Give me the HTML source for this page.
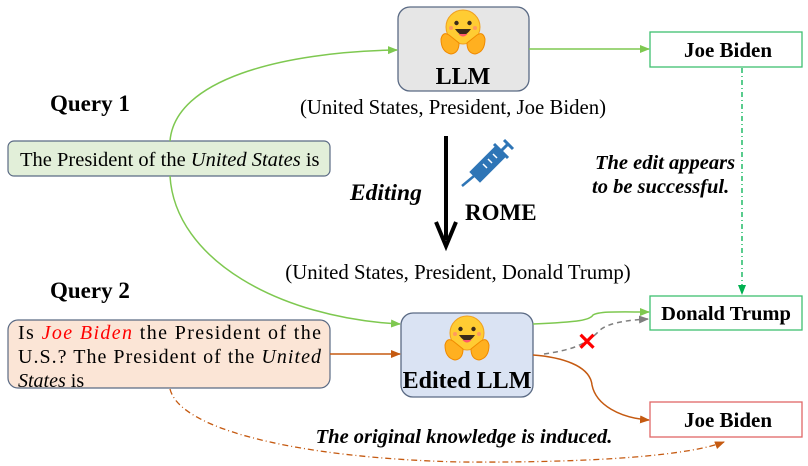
<!DOCTYPE html>
<html><head><meta charset="utf-8"><style>
html,body{margin:0;padding:0;background:#fff;}
svg{display:block;}
text{font-family:"Liberation Serif",serif;fill:#000;}
</style></head><body>
<svg width="808" height="466" viewBox="0 0 808 466" xmlns="http://www.w3.org/2000/svg">
<defs>
<marker id="ag" markerWidth="10" markerHeight="10" refX="9" refY="5" orient="auto" markerUnits="userSpaceOnUse"><path d="M0,1 L10,5 L0,9 z" fill="#7ec850"/></marker>
<marker id="ao" markerWidth="10" markerHeight="10" refX="9" refY="5" orient="auto" markerUnits="userSpaceOnUse"><path d="M0,1 L10,5 L0,9 z" fill="#c55a11"/></marker>
<marker id="agr" markerWidth="10" markerHeight="10" refX="9" refY="5" orient="auto" markerUnits="userSpaceOnUse"><path d="M0,1 L10,5 L0,9 z" fill="#7f7f7f"/></marker>
<marker id="adg" markerWidth="10" markerHeight="10" refX="9" refY="5" orient="auto" markerUnits="userSpaceOnUse"><path d="M0,1 L10,5 L0,9 z" fill="#00b050"/></marker>
<g id="hug">
<circle cx="0" cy="0" r="17" fill="#ffcc33" stroke="#f0a020" stroke-width="1"/>
<circle cx="-6.5" cy="-4" r="2.2" fill="#3a2a1a"/><circle cx="6.5" cy="-4" r="2.2" fill="#3a2a1a"/>
<circle cx="-12" cy="1" r="2" fill="#ff9a60"/><circle cx="12" cy="1" r="2" fill="#ff9a60"/>
<path d="M-8,2 Q0,14 8,2 z" fill="#3a2a1a"/><path d="M-4.5,7 Q0,12 4.5,7 z" fill="#ff5a6a"/>
<path d="M-22,12 Q-20,4 -14,8 L-4,16 Q-4,26 -12,27 Q-22,25 -22,12 z" fill="#ffb020" stroke="#f08a00"/>
<path d="M22,12 Q20,4 14,8 L4,16 Q4,26 12,27 Q22,25 22,12 z" fill="#ffb020" stroke="#f08a00"/>
</g>
</defs>

<!-- LLM box -->
<rect x="398" y="7" width="131" height="84" rx="12" fill="#e6e6e6" stroke="#5a6a84" stroke-width="1.3"/>
<use href="#hug" x="463" y="27"/>
<text x="463" y="84" text-anchor="middle" font-size="24" font-weight="bold">LLM</text>
<text x="453" y="114" text-anchor="middle" font-size="20.8">(United States, President, Joe Biden)</text>

<text x="50" y="111" font-size="23" font-weight="bold">Query 1</text>
<rect x="8" y="141" width="322" height="35" rx="6" fill="#e2efd9" stroke="#5a6a84" stroke-width="1.2"/>
<text x="20" y="166" font-size="20.5">The President of the <tspan font-style="italic">United States</tspan> is</text>

<!-- green curves -->
<path d="M170,141 C175,80 280,52 397,50" fill="none" stroke="#7ec850" stroke-width="1.5" marker-end="url(#ag)"/>
<path d="M529,49 L649,49" fill="none" stroke="#7ec850" stroke-width="1.5" marker-end="url(#ag)"/>
<path d="M170,176 C175,260 280,318 400,324" fill="none" stroke="#7ec850" stroke-width="1.5" marker-end="url(#ag)"/>

<rect x="650" y="32" width="152" height="35" fill="#fff" stroke="#3ec070" stroke-width="1.3"/>
<text x="728" y="57" text-anchor="middle" font-size="21" font-weight="bold">Joe Biden</text>

<!-- editing arrow -->
<line x1="446" y1="136" x2="446" y2="240" stroke="#000" stroke-width="4"/>
<path d="M436,222 L446,246 L456,222" fill="none" stroke="#000" stroke-width="4"/>
<text x="350" y="200" font-size="23.5" font-weight="bold" font-style="italic">Editing</text>
<text x="465" y="220" font-size="23" font-weight="bold">ROME</text>
<!-- syringe -->
<g stroke="#2e75b6" fill="#2e75b6">
<line x1="462" y1="186" x2="474" y2="176" stroke-width="2.5"/>
<path d="M470,172 L496,146 L506,156 L480,182 z"/>
<line x1="494" y1="144" x2="508" y2="158" stroke-width="3"/>
<line x1="501" y1="151" x2="508" y2="144" stroke-width="3"/>
<line x1="504" y1="140" x2="513" y2="149" stroke-width="3"/>
</g>
<g stroke="#fff" stroke-width="1.5"><line x1="483" y1="164" x2="487" y2="168"/><line x1="488" y1="159" x2="492" y2="163"/><line x1="493" y1="154" x2="497" y2="158"/></g>

<text x="458" y="279" text-anchor="middle" font-size="20.8">(United States, President, Donald Trump)</text>

<text x="595" y="169" font-size="20.5" font-weight="bold" font-style="italic">The edit appears</text>
<text x="592" y="193" font-size="20.5" font-weight="bold" font-style="italic">to be successful.</text>
<line x1="742" y1="68" x2="742" y2="294" stroke="#00b050" stroke-width="1.3" stroke-dasharray="5,3,1,3" marker-end="url(#adg)"/>

<text x="50" y="298" font-size="23" font-weight="bold">Query 2</text>
<rect x="8" y="320" width="322" height="68" rx="10" fill="#fbe5d6" stroke="#5a6a84" stroke-width="1.2"/>
<text x="18" y="339" font-size="20" textLength="303" lengthAdjust="spacing">Is <tspan fill="#ff0000" style="fill:#ff0000" font-style="italic">Joe Biden</tspan> the President of the</text>
<text x="18" y="363" font-size="20" textLength="303" lengthAdjust="spacing">U.S.? The President of the <tspan font-style="italic">United</tspan></text>
<text x="18" y="387" font-size="20"><tspan font-style="italic">States</tspan> is</text>

<!-- Edited LLM -->
<rect x="401" y="313" width="132" height="84" rx="12" fill="#dae3f3" stroke="#5a6a84" stroke-width="1.3"/>
<use href="#hug" x="467" y="333"/>
<text x="467" y="388" text-anchor="middle" font-size="24" font-weight="bold">Edited LLM</text>

<line x1="330" y1="354" x2="400" y2="354" stroke="#c55a11" stroke-width="1.5" marker-end="url(#ao)"/>
<path d="M533,324 C580,322 590,320 593,315 C600,311 620,312 649,312" fill="none" stroke="#7ec850" stroke-width="1.5" marker-end="url(#ag)"/>
<path d="M544,354 C570,350 585,346 600,330 C610,322 630,320 648,319" fill="none" stroke="#7f7f7f" stroke-width="1.5" stroke-dasharray="5,4" marker-end="url(#agr)"/>
<text x="587" y="350" text-anchor="middle" font-family="Liberation Sans" font-size="24" font-weight="bold" fill="#ff0000" style="fill:#ff0000">✕</text>
<path d="M533,355 C560,357 590,365 592,385 C596,405 620,418 649,420" fill="none" stroke="#c55a11" stroke-width="1.5" marker-end="url(#ao)"/>

<rect x="650" y="296" width="152" height="34" fill="#fff" stroke="#3ec070" stroke-width="1.3"/>
<text x="726" y="320" text-anchor="middle" font-size="20.5" font-weight="bold">Donald Trump</text>
<rect x="650" y="402" width="152" height="35" fill="#fff" stroke="#e06666" stroke-width="1.3"/>
<text x="728" y="427" text-anchor="middle" font-size="21" font-weight="bold">Joe Biden</text>

<path d="M170,389 C180,430 300,458 460,462 C600,463 690,455 724,442" fill="none" stroke="#c55a11" stroke-width="1.3" stroke-dasharray="6,3,1,3" marker-end="url(#ao)"/>
<text x="464" y="443" text-anchor="middle" font-size="20.5" font-weight="bold" font-style="italic">The original knowledge is induced.</text>
</svg>
</body></html>
